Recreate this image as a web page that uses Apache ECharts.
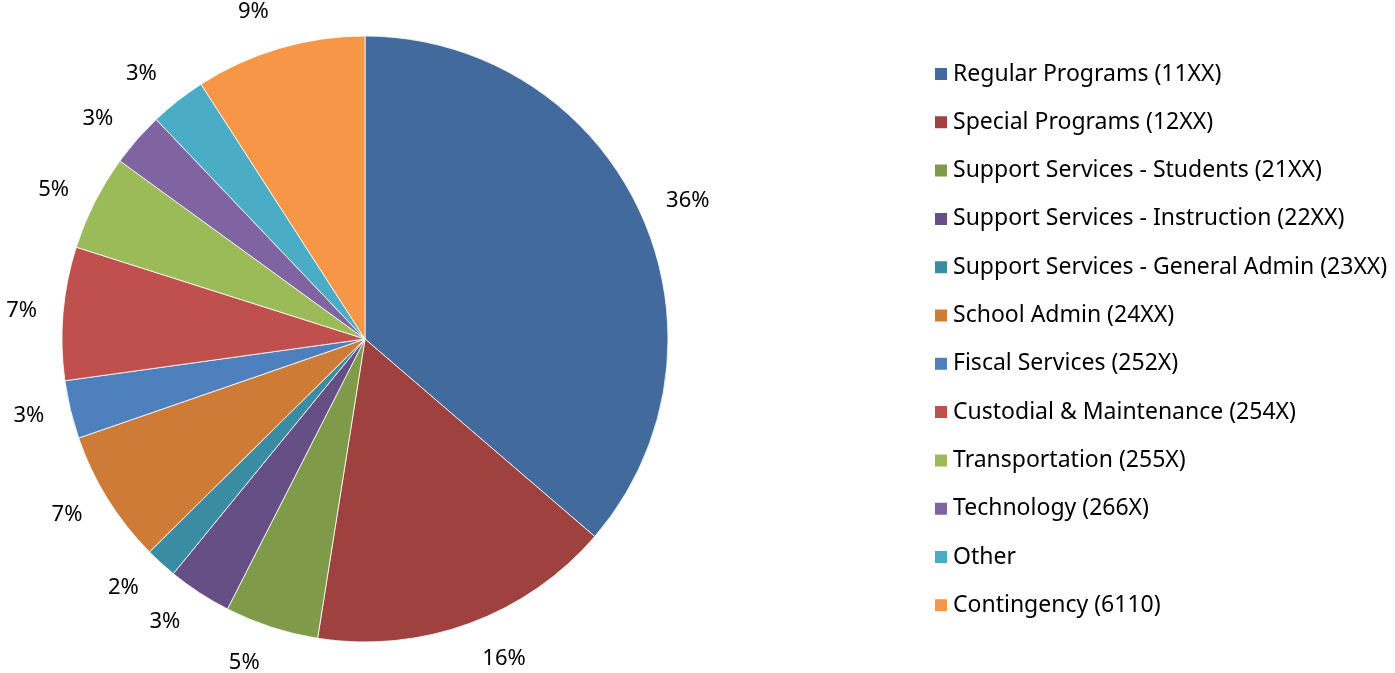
<!DOCTYPE html>
<html><head><meta charset="utf-8">
<script src="https://cdn.jsdelivr.net/npm/echarts@6/dist/echarts.min.js"></script>
<style>html,body{margin:0;padding:0;background:#fff}#c{width:1395px;height:673px}</style>
</head><body><div id="c"></div>
<script>
const categories = ["Regular Programs (11XX)","Special Programs (12XX)","Support Services - Students (21XX)","Support Services - Instruction (22XX)","Support Services - General Admin (23XX)","School Admin (24XX)","Fiscal Services (252X)","Custodial & Maintenance (254X)","Transportation (255X)","Technology (266X)","Other","Contingency (6110)"];
const values = [36.3,16.2,5.0,3.4,1.7,7.1,3.1,7.1,5.1,2.9,3.0,9.1];
const colors = ["#426A9C","#9E413F","#7F9A48","#664F84","#3A8CA2","#CD7B36","#4E80BD","#C0504D","#9BBB59","#8064A2","#4BACC6","#F79646"];

const total = values.reduce((a,b)=>a+b,0);
let acc = 0;
const data = categories.map((n,i)=>{
  const mid = (acc + values[i]/2)/total*2*Math.PI; acc += values[i];
  const c = Math.cos(mid);
  const len = 26 + 13*c*c;
  return {name:n,value:values[i],itemStyle:{color:colors[i]},labelLine:{length:len,length2:0}};
});
const font = '"Noto Sans", sans-serif';
const chart = echarts.init(document.getElementById('c'));
chart.setOption({
  animation:false,
  legend:{orient:'vertical',left:928,top:57,itemWidth:14,itemHeight:14,itemGap:24.3,icon:'rect',
    data:categories,
    textStyle:{fontFamily:font,fontSize:23,color:'#000',lineHeight:24}},
  series:[
    {type:'pie',center:[365,339],radius:303,startAngle:90,clockwise:true,
     avoidLabelOverlap:false,
     data:data,
     label:{show:true,position:'outside',alignTo:'none',distanceToLabelLine:0,formatter:p=>Math.round(p.percent)+'%',fontFamily:font,fontSize:22,color:'#000'},
     labelLine:{show:false,length:30,length2:0},
     itemStyle:{borderColor:'#fff',borderWidth:0.8},emphasis:{disabled:true}}
  ]
});
</script></body></html>
